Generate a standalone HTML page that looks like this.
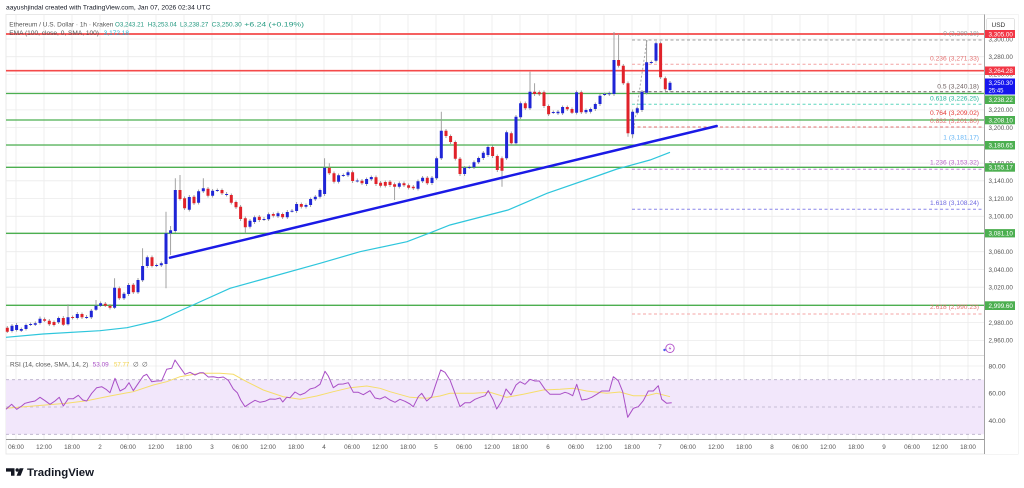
<!DOCTYPE html>
<html><head><meta charset="utf-8"><style>
html,body{margin:0;padding:0;background:#fff;width:1024px;height:488px;overflow:hidden}
svg{display:block}
text{font-family:"Liberation Sans",sans-serif}
</style></head><body>
<svg width="1024" height="488" viewBox="0 0 1024 488" xmlns="http://www.w3.org/2000/svg">
<rect x="0" y="0" width="1024" height="488" fill="#fff"/>
<!-- header -->
<text x="6" y="9.6" font-size="6.3" fill="#131722" textLength="204.5" lengthAdjust="spacingAndGlyphs">aayushjindal created with TradingView.com, Jan 07, 2026 02:34 UTC</text>
<!-- frame -->
<rect x="6" y="14.5" width="1012" height="439.5" fill="none" stroke="#e3e3e3" stroke-width="0.8"/>
<!-- vertical grid -->
<g stroke="#ebebeb" stroke-width="0.8">
<path d="M16 14.5V439M44 14.5V439M72 14.5V439M100 14.5V439M128 14.5V439M156 14.5V439M184 14.5V439M212 14.5V439M240 14.5V439M268 14.5V439M296 14.5V439M324 14.5V439M352 14.5V439M380 14.5V439M408 14.5V439M436 14.5V439M464 14.5V439M492 14.5V439M520 14.5V439M548 14.5V439M576 14.5V439M604 14.5V439M632 14.5V439M660 14.5V439M688 14.5V439M716 14.5V439M744 14.5V439M772 14.5V439M800 14.5V439M828 14.5V439M856 14.5V439M884 14.5V439M912 14.5V439M940 14.5V439M968 14.5V439"/>
<!-- horizontal grid price -->
<path d="M6 39H984M6 56.7H984M6 74.4H984M6 92.2H984M6 109.9H984M6 127.6H984M6 145.4H984M6 163.1H984M6 180.8H984M6 198.5H984M6 216.3H984M6 234H984M6 251.7H984M6 269.5H984M6 287.2H984M6 304.9H984M6 322.6H984M6 340.4H984"/>
<!-- rsi grid -->
<path d="M6 366H984M6 393.3H984M6 420.7H984"/>
</g>
<!-- pane separator -->
<path d="M6 355.5H984" stroke="#dcdcdc" stroke-width="1"/>

<!-- RSI band -->
<rect x="6" y="379.7" width="978" height="54.6" fill="#f2e7fb"/>
<g stroke="#b9aec9" stroke-width="0.8" stroke-dasharray="3,3">
<path d="M6 379.7H984M6 407H984M6 434.3H984"/>
</g>
<!-- RSI SMA -->
<polyline fill="none" stroke="#f6dd6a" stroke-width="1" points="6,408.3 33.3,406 66.7,403.3 86.7,400.7 110,396 133.3,391.7 153.3,385 166.7,381.7 180,376.7 200,373.3 220,373.3 233.3,374.3 246.7,381.7 263.3,390 283.3,396.7 300,399.3 316.7,396 333.3,391.7 350,387.7 366.7,386 380,388.3 390,391.7 410,397.3 426.7,398.3 440,396 450,393.3 473.3,393.3 490,392.3 506.7,397.3 523.3,394.3 543.3,390 560,389.3 573.3,388.3 586.7,391 606.7,393.3 620,392 633.3,395.7 646.7,395.7 656.7,393.3 670,396.7"/>
<!-- RSI -->
<polyline fill="none" stroke="#a94fc6" stroke-width="1" stroke-linejoin="round" points="6,409.3 11.7,404.3 16.7,409.3 21.7,406 25,403.3 30,402 35,401 40,397.3 45,400.7 50,404.3 55,401 59.3,397.3 63.3,406 68.3,398.7 73.3,398.7 78.3,395.3 82.7,400 86.7,401 91.7,393.3 96.7,387.7 101.7,386.7 106,389.3 110,392.7 115,378.3 120,391 125,388.3 129,382.7 133.3,390.7 138.3,383.3 143.3,376 146.7,374.3 151.7,381.7 156.7,381 161.7,380.7 166.7,369.3 171.7,368.3 175,360 180,367.3 185,374.3 190,372.3 195,375 200,372.7 203.3,372.7 208.3,377 213.3,376.7 218.3,377.7 223.3,377 228.3,380.3 233.3,389 237.3,392.7 240.7,400 245,406.7 250,403.3 255,400.3 260,402.3 265,401.3 270,399 275,399.3 280,398 282.7,402 286.7,397.3 290,397.7 295,392 300,395 305,393 310,389 315,387.7 320,384.3 325,371.3 328.3,376 333.3,387.7 338.3,384.3 343.3,384 348.3,382.7 353.3,392.3 358.3,392.3 363.3,394.7 370,390.7 375,398 380,399 385,396.7 390,400 395,402.3 400,399.3 405,401.3 410,404 413.3,406.7 418.3,396.7 421.7,393.3 426.7,401 431.7,396.7 436.7,381.7 440.7,370 445,372.3 450,380 455,393.3 460,406.7 465,402.7 470,402.7 475,399.3 480,397.3 485,395.7 488.3,390.7 493.3,400 496.7,409 501.7,401 506,389 511,395 516,385 520,381.7 525,384.3 530,379.3 535,381 539.3,381 545,389.3 550,394.3 555,394.3 560,394.3 565,392.3 568.3,393.3 572.7,395.7 576.7,384.3 581.7,400 586.7,399.3 591.7,397.3 596.7,394.3 601.7,391 606.7,391 609.3,391 613.3,376.7 618.3,380.7 622.7,391.7 627.7,417.3 633.3,408.3 638.3,406.7 643.3,400.7 648.3,391 653.3,391 658.3,385.7 661.7,399.3 666.7,403.3 671.7,402.7"/>
<text x="10" y="366.3" font-size="6.3" fill="#555" textLength="78.3" lengthAdjust="spacingAndGlyphs">RSI (14, close, SMA, 14, 2)</text>
<text x="92.7" y="366.3" font-size="6.3" fill="#a94fc6" textLength="16" lengthAdjust="spacingAndGlyphs">53.09</text>
<text x="114" y="366.3" font-size="6.3" fill="#f2d24a" textLength="15.3" lengthAdjust="spacingAndGlyphs">57.77</text>
<text x="133" y="366.3" font-size="6.3" fill="#555">∅</text>
<text x="142" y="366.3" font-size="6.3" fill="#555">∅</text>

<!-- horizontal levels -->
<g stroke="#4caf50" stroke-width="1.3">
<path d="M6 93.5H984M6 120H984M6 145H984M6 167.3H984M6 233.3H984M6 305.3H984"/>
</g>
<g stroke="#f44a4a" stroke-width="1.7">
<path d="M6 34H984M6 70.7H984"/>
</g>
<!-- fib dashed -->
<g stroke-width="1" stroke-dasharray="3,2.5" fill="none">
<path d="M632 40H984" stroke="#a0a0a0"/>
<path d="M632 64.3H984" stroke="#f4a4a4"/>
<path d="M632 91.8H984" stroke="#6d5f5f"/>
<path d="M632 104.3H984" stroke="#5fd6bd"/>
<path d="M632 127H984" stroke="#e57373"/>
<path d="M632 169.3H984" stroke="#c085d6"/>
<path d="M632 209.3H984" stroke="#8a86ea"/>
<path d="M632 314H984" stroke="#f4a4a4"/>
<path d="M632.5 137L647 40" stroke="#a8a8a8" stroke-dasharray="2,2"/>
</g>

<!-- EMA -->
<polyline fill="none" stroke="#2ec6dc" stroke-width="1.2" points="6,337.3 43,334 100,330.7 127,327.7 160,320 173,314 193,305 230,288.3 260,280 320,263.3 360,251.7 407,241.7 433,231.7 450,225 508,210 547,193.3 600,175 617,169 650,160 670,152.3"/>

<!-- wicks -->
<path fill="none" stroke="#9a9a9a" stroke-width="0.9" d="M7.3 326V333 M12 324V332.5 M16.6 323V331.5 M21.3 327.5V332 M26 323.5V330.5 M30.6 322.5V326 M35.3 321.5V326 M40 316.5V324.5 M44.6 317.5V322 M49.3 319V326 M54 320.5V326.5 M58.6 316.5V324 M63.3 316V326 M68 304.3V325.5 M72.6 315.5V319.5 M77.3 312V319.5 M82 312.5V319 M86.6 315V319 M91.3 309V319 M96 300V311 M100.6 301.5V307 M105.3 302V307 M110 304V309.5 M114.6 278.3V309 M119.3 286.5V300 M124 292V300 M128.6 283V296 M133.3 283V294 M138 278V294 M142.6 248.3V282 M147.3 255.5V268 M152 255.5V267.5 M156.6 263.5V267 M161.3 261.5V267 M166 211.7V288.3 M170.6 226V255 M175.3 178.3V232.5 M180 175V200.5 M184.6 196.5V210 M189.3 195V211.5 M194 195V205 M198.6 189.5V204.5 M203.3 178.3V193 M208 187V197.5 M212.6 189V197.5 M217.3 188.5V192 M222 188.5V195 M226.6 192V196.5 M231.3 193.5V204.5 M236 200.5V209 M240.6 205V221 M245.3 216.5V233.3 M250 219V228.5 M254.6 215.5V224 M259.3 215V222 M264 217V221 M268.6 212.5V221 M273.3 212.5V217.5 M278 211.5V218 M282.6 212.5V219 M287.3 210V219 M292 209V212.5 M296.6 202V213 M301.3 202.5V208.5 M306 203.5V208.5 M310.6 197.5V207 M315.3 195V201 M320 188.5V198.5 M324.6 158.3V196 M329.3 163.3V175 M334 171.5V183.5 M338.6 173.5V183.5 M343.3 173.5V177 M348 170.5V177 M352.6 170.5V183 M357.3 178.5V182.5 M362 179V185 M366.6 177.5V186 M371.3 175.5V181 M376 175.5V186 M380.6 181V187.5 M385.3 180.5V187.5 M390 180V187 M394.6 182.5V200 M399.3 181.5V188.5 M404 181.5V187 M408.6 183.5V189.5 M413.3 185V190 M418 179.5V190.5 M422.6 176V183 M427.3 176V185 M432 176V185 M436.6 156.5V180 M441.3 111.7V160 M446 129V138 M450.6 134.5V144 M455.3 140.5V160.5 M460 157V176 M464.6 166V176 M469.3 165.5V169 M474 160.5V169 M478.6 156.5V164 M483.3 151V160 M488 145.5V157 M492.6 145.5V158 M497.3 154.5V172 M502 156.5V186.7 M506.6 130.5V160 M511.3 131.5V145 M516 115V145 M520.6 101.5V119 M525.3 101.5V110 M530 71.7V110 M534.6 83.3V96 M539.3 90.5V96 M544 90.5V108 M548.6 104.5V116 M553.3 110.5V114 M558 110V115 M562.6 105.5V115 M567.3 105.5V111 M572 107.5V114 M576.6 90.5V114.5 M581.3 90.5V114 M586 108.5V114 M590.6 107.5V113.5 M595.3 102.5V111 M600 94V106 M604.6 92.5V96 M609.3 91.5V96 M614 32V96 M618.6 34V67.5 M623.3 64V85 M628 81.5V136.7 M632.6 109.5V138.3 M637.3 106.5V114.5 M642 90V112 M646.6 40V94.5 M651.3 60.5V64 M656 41.5V62.5 M660.6 41.5V79 M665.3 76.5V91 M670 81V91.5"/>
<!-- blue bodies -->
<path fill="#1f25d6" d="M10.5 325.7h3v5.3h-3zM15.1 325h3v5h-3zM19.8 329h3v1.7h-3zM24.5 325h3v4h-3zM29.1 324h3v1h-3zM33.8 323.3h3v1.4h-3zM38.5 318.7h3v4.3h-3zM57.1 318h3v4.3h-3zM66.5 317.3h3v7h-3zM75.8 314h3v4h-3zM85.1 317h3v1h-3zM89.8 310.7h3v6.6h-3zM94.5 305.7h3v4h-3zM99.1 303.3h3v2.4h-3zM113.1 287.7h3v20h-3zM122.5 293.7h3v4.6h-3zM127.1 285h3v9h-3zM136.5 280h3v12.3h-3zM141.1 266h3v14.3h-3zM145.8 257.3h3v8.7h-3zM155.1 265h3v1h-3zM159.8 263.3h3v2h-3zM164.5 233.3h3v30.7h-3zM169.1 230.3h3v3h-3zM173.8 190h3v41h-3zM187.8 197h3v12.7h-3zM197.1 191.3h3v11.4h-3zM201.8 188.3h3v3h-3zM211.1 190.7h3v5h-3zM215.8 190h3v1h-3zM225.1 194h3v1h-3zM248.5 220.7h3v6h-3zM253.1 217.3h3v4.7h-3zM262.5 219h3v1h-3zM267.1 214.3h3v5h-3zM276.5 213.3h3v3h-3zM285.8 212h3v5.3h-3zM290.5 210.7h3v1h-3zM295.1 204h3v7h-3zM304.5 205h3v1.7h-3zM309.1 199h3v6h-3zM313.8 196.7h3v2.6h-3zM318.5 190h3v6.7h-3zM323.1 167.7h3v26.3h-3zM337.1 175.3h3v6.4h-3zM341.8 175h3v1h-3zM346.5 172.3h3v3h-3zM355.8 180.5h3v1h-3zM365.1 179h3v5h-3zM369.8 177h3v2.3h-3zM397.8 183.3h3v3.4h-3zM416.5 181.3h3v7.4h-3zM421.1 177.7h3v3.6h-3zM430.5 177.7h3v5.3h-3zM435.1 158.3h3v20h-3zM439.8 130.7h3v27.6h-3zM463.1 167.7h3v6.3h-3zM467.8 167h3v1h-3zM472.5 162.3h3v5h-3zM477.1 158h3v4.3h-3zM481.8 152.7h3v5.3h-3zM486.5 147h3v8h-3zM505.1 132.3h3v26h-3zM514.5 116.7h3v26.6h-3zM519.1 103.3h3v14h-3zM528.5 91.7h3v16.6h-3zM551.8 112h3v1h-3zM556.5 111.7h3v1.6h-3zM561.1 107h3v6.3h-3zM575.1 92.3h3v20.4h-3zM584.5 110h3v2.3h-3zM589.1 109h3v2.7h-3zM593.8 104h3v5h-3zM598.5 95.7h3v8.3h-3zM603.1 94h3v1h-3zM607.8 93.3h3v1h-3zM612.5 60h3v34h-3zM631.1 111.7h3v22.6h-3zM635.8 108.3h3v4.4h-3zM640.5 91.7h3v18.3h-3zM645.1 62.3h3v30.4h-3zM649.8 62h3v1h-3zM654.5 43.3h3v17.4h-3zM668.5 82.7h3v7.3h-3z"/>
<!-- red bodies -->
<path fill="#e0222a" d="M5.8 327.7h3v4h-3zM43.1 319.3h3v1.4h-3zM47.8 320.7h3v3.6h-3zM52.5 322h3v3h-3zM61.8 318h3v6.7h-3zM71.1 317h3v1h-3zM80.5 314h3v3.3h-3zM103.8 303.7h3v2h-3zM108.5 305.7h3v2h-3zM117.8 288.3h3v10h-3zM131.8 284.7h3v7.6h-3zM150.5 257.3h3v8.7h-3zM178.5 190h3v9h-3zM183.1 198.3h3v10h-3zM192.5 196.7h3v6.6h-3zM206.5 188.7h3v7h-3zM220.5 190h3v3.3h-3zM229.8 195h3v7.7h-3zM234.5 202h3v5.3h-3zM239.1 206.7h3v12.3h-3zM243.8 218.3h3v9h-3zM257.8 216.7h3v3.3h-3zM271.8 214h3v1.7h-3zM281.1 214h3v3.3h-3zM299.8 204h3v2.7h-3zM327.8 167.7h3v5.6h-3zM332.5 173.3h3v8.4h-3zM351.1 172.3h3v8.7h-3zM360.5 180.7h3v2.6h-3zM374.5 177.3h3v6.7h-3zM379.1 182.7h3v3h-3zM383.8 182h3v3.7h-3zM388.5 181.7h3v3.3h-3zM393.1 184.3h3v2.4h-3zM402.5 183.3h3v2h-3zM407.1 185.3h3v2.4h-3zM411.8 186.7h3v1.6h-3zM425.8 177.7h3v5.6h-3zM444.5 130.7h3v5.3h-3zM449.1 136h3v6h-3zM453.8 142h3v16.7h-3zM458.5 158.7h3v15.3h-3zM491.1 147h3v9h-3zM495.8 156h3v14h-3zM500.5 158.3h3v12.4h-3zM509.8 133.3h3v10h-3zM523.8 103.3h3v5h-3zM533.1 91.7h3v2.3h-3zM537.8 92.3h3v2h-3zM542.5 92.3h3v13.7h-3zM547.1 106h3v8.3h-3zM565.8 107h3v2.3h-3zM570.5 109h3v3.7h-3zM579.8 92.3h3v20h-3zM617.1 60h3v5.7h-3zM621.8 65.7h3v17.6h-3zM626.5 83.3h3v50h-3zM659.1 43.3h3v34h-3zM663.8 78.3h3v11h-3z"/>

<!-- trend line -->
<path d="M170 257.7L716.7 126" stroke="#1a1ae6" stroke-width="2.5" stroke-linecap="round"/>

<!-- fib labels -->
<g font-size="6.5" text-anchor="end">
<text x="979" y="35.5" fill="#9a9a9a" textLength="35.7" lengthAdjust="spacingAndGlyphs">0 (3,289.18)</text>
<text x="979" y="60.5" fill="#e57373" textLength="49" lengthAdjust="spacingAndGlyphs">0.236 (3,271.33)</text>
<text x="979" y="88.5" fill="#6d5f5f" textLength="41.7" lengthAdjust="spacingAndGlyphs">0.5 (3,240.18)</text>
<text x="979" y="100.6" fill="#26b59a" textLength="49" lengthAdjust="spacingAndGlyphs">0.618 (3,226.25)</text>
<text x="979" y="115" fill="#e53935" textLength="49" lengthAdjust="spacingAndGlyphs">0.764 (3,209.02)</text>
<text x="979" y="123" fill="#e57373" textLength="49" lengthAdjust="spacingAndGlyphs">0.832 (3,201.80)</text>
<text x="979" y="139.3" fill="#64b5f6" textLength="35.7" lengthAdjust="spacingAndGlyphs">1 (3,181.17)</text>
<text x="979" y="164.6" fill="#ba68c8" textLength="49" lengthAdjust="spacingAndGlyphs">1.236 (3,153.32)</text>
<text x="979" y="205" fill="#6f6ae0" textLength="49" lengthAdjust="spacingAndGlyphs">1.618 (3,108.24)</text>
<text x="979" y="309" fill="#e57373" textLength="49" lengthAdjust="spacingAndGlyphs">2.618 (2,990.23)</text>
</g>

<!-- legend -->
<g font-size="6.3">
<text x="9.3" y="26.3" fill="#555" textLength="104" lengthAdjust="spacingAndGlyphs">Ethereum / U.S. Dollar · 1h · Kraken</text>
<text x="115" y="26.3" fill="#22987f" textLength="29" lengthAdjust="spacingAndGlyphs">O3,243.21</text>
<text x="147.7" y="26.3" fill="#22987f" textLength="29" lengthAdjust="spacingAndGlyphs">H3,253.04</text>
<text x="180" y="26.3" fill="#22987f" textLength="28.3" lengthAdjust="spacingAndGlyphs">L3,238.27</text>
<text x="211.7" y="26.3" fill="#22987f" textLength="30" lengthAdjust="spacingAndGlyphs">C3,250.30</text>
<text x="244.3" y="26.3" fill="#22987f" textLength="59.7" lengthAdjust="spacingAndGlyphs">+6.24 (+0.19%)</text>
<text x="9.3" y="35" fill="#555" textLength="89.7" lengthAdjust="spacingAndGlyphs">EMA (100, close, 0, SMA, 100)</text>
<text x="103.7" y="35" fill="#2bb7d6" textLength="25.3" lengthAdjust="spacingAndGlyphs">3,172.18</text>
</g>

<!-- lightning icon -->
<circle cx="670" cy="348.3" r="4.2" fill="#fff" stroke="#b04dc8" stroke-width="0.9"/>
<path d="M670.8 345.6L668.6 348.7H670.2L669.2 351L671.4 347.9H669.8Z" fill="#b04dc8"/>
<circle cx="664.5" cy="350" r="1.2" fill="#4a5cf0"/>

<!-- axes -->
<rect x="984.5" y="14.5" width="33.5" height="439.5" fill="#fff"/>
<path d="M984.5 14.5V454" stroke="#999" stroke-width="0.9"/>
<path d="M6 439.5H984.5" stroke="#999" stroke-width="0.9"/>
<rect x="986.5" y="18.3" width="28" height="12.4" rx="2" fill="#fff" stroke="#d6d6d6" stroke-width="0.7"/>
<text x="991.5" y="26.8" font-size="6.5" fill="#333">USD</text>

<!-- price tick labels -->
<g font-size="6.5" fill="#555">
<text x="988.5" y="41.3" textLength="24.4" lengthAdjust="spacingAndGlyphs">3,300.00</text>
<text x="988.5" y="59" textLength="24.4" lengthAdjust="spacingAndGlyphs">3,280.00</text>
<text x="988.5" y="76.7" textLength="24.4" lengthAdjust="spacingAndGlyphs">3,260.00</text>
<text x="988.5" y="94.5" textLength="24.4" lengthAdjust="spacingAndGlyphs">3,240.00</text>
<text x="988.5" y="112.2" textLength="24.4" lengthAdjust="spacingAndGlyphs">3,220.00</text>
<text x="988.5" y="129.9" textLength="24.4" lengthAdjust="spacingAndGlyphs">3,200.00</text>
<text x="988.5" y="147.7" textLength="24.4" lengthAdjust="spacingAndGlyphs">3,180.00</text>
<text x="988.5" y="165.4" textLength="24.4" lengthAdjust="spacingAndGlyphs">3,160.00</text>
<text x="988.5" y="183.1" textLength="24.4" lengthAdjust="spacingAndGlyphs">3,140.00</text>
<text x="988.5" y="200.8" textLength="24.4" lengthAdjust="spacingAndGlyphs">3,120.00</text>
<text x="988.5" y="218.6" textLength="24.4" lengthAdjust="spacingAndGlyphs">3,100.00</text>
<text x="988.5" y="236.3" textLength="24.4" lengthAdjust="spacingAndGlyphs">3,080.00</text>
<text x="988.5" y="254" textLength="24.4" lengthAdjust="spacingAndGlyphs">3,060.00</text>
<text x="988.5" y="271.8" textLength="24.4" lengthAdjust="spacingAndGlyphs">3,040.00</text>
<text x="988.5" y="289.5" textLength="24.4" lengthAdjust="spacingAndGlyphs">3,020.00</text>
<text x="988.5" y="307.2" textLength="24.4" lengthAdjust="spacingAndGlyphs">3,000.00</text>
<text x="988.5" y="324.9" textLength="24.4" lengthAdjust="spacingAndGlyphs">2,980.00</text>
<text x="988.5" y="342.7" textLength="24.4" lengthAdjust="spacingAndGlyphs">2,960.00</text>
<text x="988.5" y="368.3" textLength="17" lengthAdjust="spacingAndGlyphs">80.00</text>
<text x="988.5" y="395.6" textLength="17" lengthAdjust="spacingAndGlyphs">60.00</text>
<text x="988.5" y="423" textLength="17" lengthAdjust="spacingAndGlyphs">40.00</text>
</g>

<!-- price boxes -->
<g font-size="6.5" fill="#fff">
<rect x="985" y="30" width="30" height="8" fill="#f23645"/>
<text x="988.5" y="36.3" fill="#fff" textLength="24.4" lengthAdjust="spacingAndGlyphs">3,305.00</text>
<rect x="985" y="66.5" width="30" height="8.5" fill="#f23645"/>
<text x="988.5" y="73" fill="#fff" textLength="24.4" lengthAdjust="spacingAndGlyphs">3,264.28</text>
<rect x="985" y="78.5" width="30" height="16" fill="#1616ee"/>
<text x="988.5" y="85.2" fill="#fff" textLength="24.4" lengthAdjust="spacingAndGlyphs">3,250.30</text>
<text x="988.5" y="92.6" fill="#fff" textLength="15" lengthAdjust="spacingAndGlyphs">25:45</text>
<rect x="985" y="95.5" width="30" height="8.5" fill="#4caf50"/>
<text x="988.5" y="102" fill="#fff" textLength="24.4" lengthAdjust="spacingAndGlyphs">3,238.22</text>
<rect x="985" y="116" width="30" height="8.3" fill="#4caf50"/>
<text x="988.5" y="122.4" fill="#fff" textLength="24.4" lengthAdjust="spacingAndGlyphs">3,208.10</text>
<rect x="985" y="141" width="30" height="8.5" fill="#4caf50"/>
<text x="988.5" y="147.5" fill="#fff" textLength="24.4" lengthAdjust="spacingAndGlyphs">3,180.65</text>
<rect x="985" y="163.2" width="30" height="8.5" fill="#4caf50"/>
<text x="988.5" y="169.7" fill="#fff" textLength="24.4" lengthAdjust="spacingAndGlyphs">3,155.17</text>
<rect x="985" y="229.1" width="30" height="8.3" fill="#4caf50"/>
<text x="988.5" y="235.5" fill="#fff" textLength="24.4" lengthAdjust="spacingAndGlyphs">3,081.10</text>
<rect x="985" y="301.3" width="30" height="8.7" fill="#4caf50"/>
<text x="988.5" y="307.8" fill="#fff" textLength="24.4" lengthAdjust="spacingAndGlyphs">2,999.60</text>
</g>

<!-- time labels -->
<g font-size="6.3" fill="#555" text-anchor="middle">
<text x="16" y="449.2">06:00</text><text x="44" y="449.2">12:00</text><text x="72" y="449.2">18:00</text><text x="100" y="449.2">2</text>
<text x="128" y="449.2">06:00</text><text x="156" y="449.2">12:00</text><text x="184" y="449.2">18:00</text><text x="212" y="449.2">3</text>
<text x="240" y="449.2">06:00</text><text x="268" y="449.2">12:00</text><text x="296" y="449.2">18:00</text><text x="324" y="449.2">4</text>
<text x="352" y="449.2">06:00</text><text x="380" y="449.2">12:00</text><text x="408" y="449.2">18:00</text><text x="436" y="449.2">5</text>
<text x="464" y="449.2">06:00</text><text x="492" y="449.2">12:00</text><text x="520" y="449.2">18:00</text><text x="548" y="449.2">6</text>
<text x="576" y="449.2">06:00</text><text x="604" y="449.2">12:00</text><text x="632" y="449.2">18:00</text><text x="660" y="449.2">7</text>
<text x="688" y="449.2">06:00</text><text x="716" y="449.2">12:00</text><text x="744" y="449.2">18:00</text><text x="772" y="449.2">8</text>
<text x="800" y="449.2">06:00</text><text x="828" y="449.2">12:00</text><text x="856" y="449.2">18:00</text><text x="884" y="449.2">9</text>
<text x="912" y="449.2">06:00</text><text x="940" y="449.2">12:00</text><text x="968" y="449.2">18:00</text>
</g>

<!-- footer logo -->
<path d="M6 468.3H14.5V475.7H11V471.6H6Z" fill="#131722"/>
<circle cx="17.2" cy="470" r="1.7" fill="#131722"/>
<path d="M19.6 468.3H23.6L20.6 475.7H16.6Z" fill="#131722"/>
<text x="27" y="475.8" font-size="10.6" font-weight="bold" fill="#131722" textLength="67" lengthAdjust="spacingAndGlyphs">TradingView</text>
</svg>
</body></html>
